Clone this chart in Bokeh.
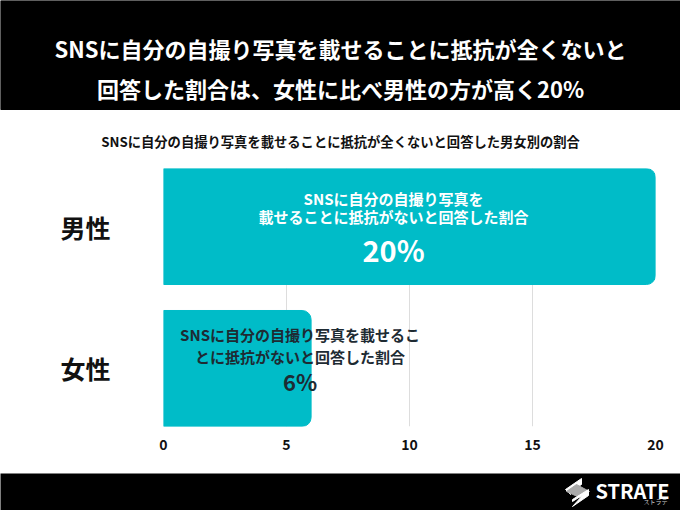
from bokeh.core.properties import value
from bokeh.embed import file_html
from bokeh.layouts import column
from bokeh.resources import INLINE
from bokeh.plotting import figure
from bokeh.models import ColumnDataSource, FactorRange, Range1d

# ---- data ----
categories = ["女性", "男性"]
values = [6, 20]
value_labels = ["6%", "20%"]
x_ticks = [0, 5, 10, 15, 20]
line1 = ["SNSに自分の自撮り写真を載せるこ", "SNSに自分の自撮り写真を"]
line2 = ["とに抵抗がないと回答した割合", "載せることに抵抗がないと回答した割合"]
title_lines = ["SNSに自分の自撮り写真を載せることに抵抗が全くないと",
               "回答した割合は、女性に比べ男性の方が高く20%"]
subtitle = "SNSに自分の自撮り写真を載せることに抵抗が全くないと回答した男女別の割合"
logo = "STRATE"
logo_sub = "ストラテ"

FONT = "Noto Sans CJK JP"
W, H = 680, 510
HEAD_H, FOOT_H = 168, 37
TEAL = "#00BCC8"


def strip(h, bg):
    f = figure(width=W, height=h, output_backend="svg", toolbar_location=None,
               x_range=Range1d(0, W), y_range=Range1d(h, 0),
               min_border=0, min_border_left=0, min_border_right=0,
               min_border_top=0, min_border_bottom=0, frame_align=False,
               background_fill_color=bg, border_fill_color=bg)
    f.axis.visible = False
    f.grid.visible = False
    f.outline_line_color = None
    return f


def put(f, text, x, y, size, color, align="center", style="bold"):
    f.text(x=[x], y=[y], text=[text], text_font=value(FONT), text_font_size=size,
           text_font_style=style, text_color=color, text_align=align, text_baseline="middle")


# ---- header: black band, headline, chart title ----
head = strip(HEAD_H, "#FFFFFF")
head.quad(left=[0], right=[W], top=[0], bottom=[109], color="#000000")
put(head, title_lines[0], 340, 47, "22px", "#FFFFFF")
put(head, title_lines[1], 340, 87, "22px", "#FFFFFF")
put(head, subtitle, 340, 141, "13.3px", "#111111")

# ---- chart ----
p = figure(width=W, height=H - HEAD_H - FOOT_H, output_backend="svg", toolbar_location=None,
           x_range=Range1d(0, 20), frame_align=False,
           y_range=FactorRange(factors=categories, factor_padding=0.224, range_padding=0),
           min_border_left=163, min_border_right=25, min_border_top=0, min_border_bottom=47)
p.outline_line_color = None
p.ygrid.grid_line_color = None
p.xgrid.grid_line_color = "#DDDDDD"
p.xgrid.grid_line_width = 1
p.xaxis.ticker = x_ticks
p.xaxis.axis_line_color = None
p.xaxis.major_tick_line_color = None
p.xaxis.minor_tick_line_color = None
p.xaxis.major_label_text_font = FONT
p.xaxis.major_label_text_font_size = "14px"
p.xaxis.major_label_text_font_style = "bold"
p.xaxis.major_label_text_color = "#111111"
p.xaxis.major_label_standoff = 6
p.yaxis.axis_line_color = None
p.yaxis.major_tick_line_color = None
p.yaxis.minor_tick_line_color = None
p.yaxis.major_label_text_font = FONT
p.yaxis.major_label_text_font_size = "25px"
p.yaxis.major_label_text_font_style = "bold"
p.yaxis.major_label_text_color = "#111111"
p.yaxis.major_label_standoff = 47

src = ColumnDataSource(dict(cat=categories, val=values, l1=line1, l2=line2, vl=value_labels,
                            lx=[5.55, 9.35],
                            col=["#1E2B33", "#FFFFFF"],
                            o1=[-34, -28], o2=[-12, -10], o3=[13, 22],
                            vs=["22px", "29px"]))
p.hbar(y="cat", left=0, right="val", height=1.0, source=src, color=TEAL,
       border_radius=(0, 9, 9, 0))
for field, off, size in (("l1", "o1", "15px"), ("l2", "o2", "15px"), ("vl", "o3", None)):
    p.text(x="lx", y="cat", text=field, source=src, y_offset=off, text_align="center",
           text_baseline="middle", text_color="col", text_font=value(FONT), text_font_style="bold",
           text_font_size=size if size else {"field": "vs"})

# ---- footer: black band with logo (y measured from the top of the band) ----
foot = strip(FOOT_H, "#000000")
put(foot, logo, 595, 17, "20px", "#FFFFFF", align="left")
put(foot, logo_sub, 667, 28, "6px", "#CCCCCC", align="right", style="normal")
foot.patch([565, 581, 581, 570, 570], [16, 5, 11, 18, 21], color="#FFFFFF")
foot.patch([566, 576, 589, 579], [18, 11, 18, 24], color="#AAAAAA")
foot.patch([572, 588, 588, 572, 572, 583], [33, 22, 16, 26, 28, 21], color="#FFFFFF")

open("out.html", "w").write(file_html(column(head, p, foot, spacing=0), INLINE))
